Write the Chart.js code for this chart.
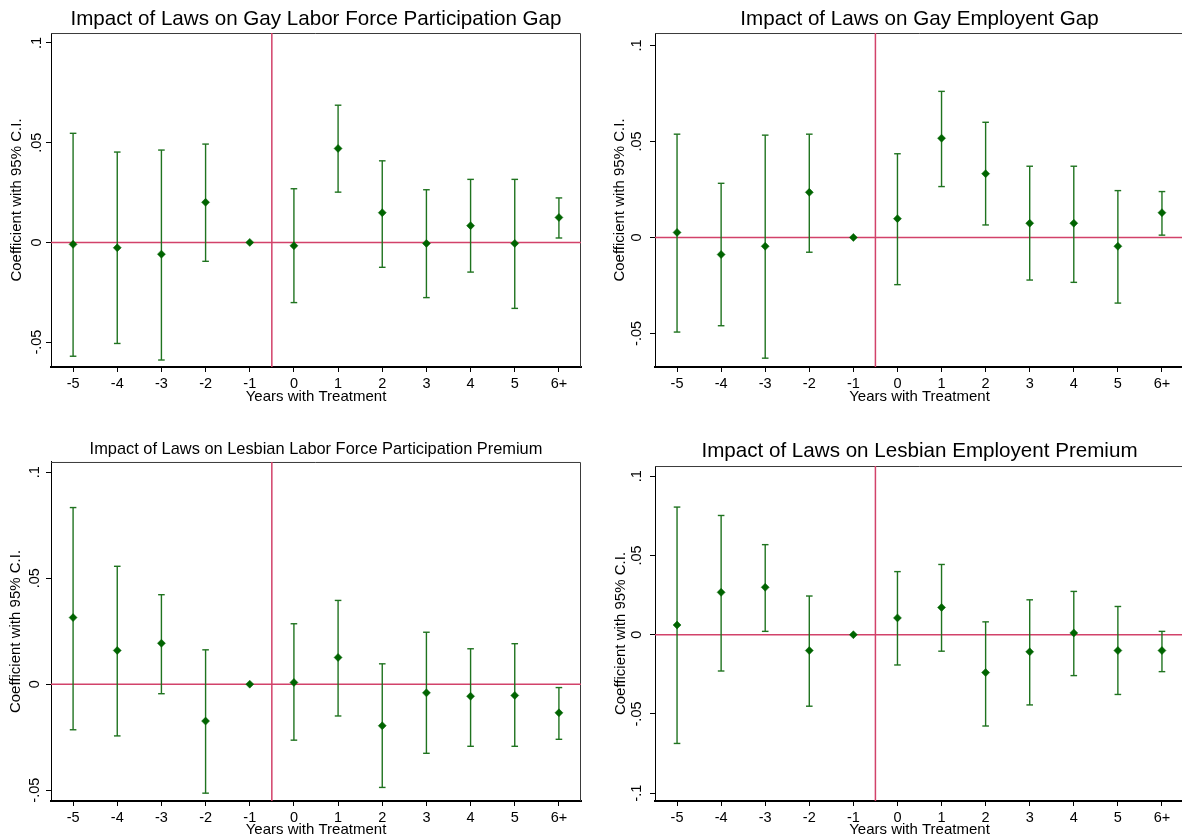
<!DOCTYPE html>
<html>
<head>
<meta charset="utf-8">
<script src="https://cdn.jsdelivr.net/npm/chart.js@4.4.1/dist/chart.umd.min.js"></script>
<style>
  html, body { margin: 0; padding: 0; background: #fff; width: 1182px; height: 839px; overflow: hidden; }
  canvas { position: absolute; }
</style>
</head>
<body>
<canvas id="gayLfp" width="583" height="415" style="left:0px;top:0px"></canvas>
<canvas id="gayEmp" width="593" height="415" style="left:591px;top:0px"></canvas>
<canvas id="lesLfp" width="583" height="415" style="left:0px;top:430px"></canvas>
<canvas id="lesEmp" width="593" height="415" style="left:591px;top:430px"></canvas>
<script>
const years = ['-5', '-4', '-3', '-2', '-1', '0', '1', '2', '3', '4', '5', '6+']
const treatmentLine = 4.5   // half a year before year 0, between -1 and 0

const yTicksSmall = [-0.05, 0, 0.05, 0.1]
const yLabelsSmall = ['-.05', '0', '.05', '.1']
const yTicksWide = [-0.1, -0.05, 0, 0.05, 0.1]
const yLabelsWide = ['-.1', '-.05', '0', '.05', '.1']

// gay labor force participation gap
const gayLfpCoef = [-0.0010, -0.0027, -0.0059, 0.0201, 0, -0.0017, 0.0471, 0.0149, -0.0005, 0.0084, -0.0005, 0.0125]
const gayLfpLow = [-0.0571, -0.0507, -0.0590, -0.0095, null, -0.0302, 0.0252, -0.0125, -0.0277, -0.0149, -0.0331, 0.0022]
const gayLfpHigh = [0.0547, 0.0453, 0.0463, 0.0493, null, 0.0269, 0.0688, 0.0409, 0.0264, 0.0316, 0.0316, 0.0223]

// gay employment gap
const gayEmpCoef = [0.0026, -0.0089, -0.0046, 0.0235, 0, 0.0098, 0.0517, 0.0332, 0.0074, 0.0074, -0.0046, 0.0129]
const gayEmpLow = [-0.0493, -0.0460, -0.0629, -0.0077, null, -0.0246, 0.0265, 0.0065, -0.0222, -0.0234, -0.0342, 0.0012]
const gayEmpHigh = [0.0538, 0.0282, 0.0533, 0.0538, null, 0.0436, 0.0761, 0.0600, 0.0371, 0.0371, 0.0244, 0.0239]

// lesbian labor force participation premium
const lesLfpCoef = [0.0314, 0.0159, 0.0193, -0.0174, 0, 0.0008, 0.0126, -0.0196, -0.0041, -0.0057, -0.0053, -0.0135]
const lesLfpLow = [-0.0215, -0.0244, -0.0045, -0.0514, null, -0.0264, -0.0150, -0.0487, -0.0326, -0.0293, -0.0293, -0.0260]
const lesLfpHigh = [0.0833, 0.0556, 0.0422, 0.0162, null, 0.0285, 0.0395, 0.0096, 0.0245, 0.0167, 0.0191, -0.0016]

// lesbian employment premium
const lesEmpCoef = [0.0061, 0.0267, 0.0299, -0.0100, 0, 0.0106, 0.0172, -0.0239, -0.0108, 0.0011, -0.0100, -0.0100]
const lesEmpLow = [-0.0686, -0.0229, 0.0021, -0.0451, null, -0.0191, -0.0104, -0.0576, -0.0443, -0.0258, -0.0377, -0.0233]
const lesEmpHigh = [0.0805, 0.0752, 0.0568, 0.0244, null, 0.0398, 0.0443, 0.0081, 0.0220, 0.0273, 0.0178, 0.0021]

const FONT = 'Arial, "Liberation Sans", sans-serif'
const GREEN = '#006400'
const WHISKER = '#1f731f'
const RED = '#d2426a'

// red reference lines and the thin plot frame
const refLines = {
    id: 'refLines',
    beforeDatasetsDraw(chart) {
        const { ctx, chartArea: a, scales: { x, y } } = chart
        ctx.save()
        ctx.strokeStyle = '#3a3a3a'
        ctx.lineWidth = 1
        ctx.beginPath()
        ctx.moveTo(a.left, a.top + 0.5)
        ctx.lineTo(a.right - 0.5, a.top + 0.5)
        ctx.lineTo(a.right - 0.5, a.bottom)
        ctx.stroke()
        ctx.strokeStyle = RED
        ctx.lineWidth = 1.5
        const y0 = y.getPixelForValue(0)
        const xT = x.getPixelForValue(treatmentLine)
        ctx.beginPath()
        ctx.moveTo(a.left, y0)
        ctx.lineTo(a.right, y0)
        ctx.moveTo(xT, a.top)
        ctx.lineTo(xT, a.bottom)
        ctx.stroke()
        ctx.restore()
    }
}

const makeChart = (id, p) => {
    const pts = (arr) => arr.map((v, i) => ({ x: i, y: v })).filter(d => d.y !== null)
    const bars = p.low.map((lo, i) => ({ x: i, y: lo === null ? null : [lo, p.high[i]] }))
    const capStyle = {
        type: 'scatter', pointStyle: 'line', pointRadius: 3.3, pointHoverRadius: 3.3,
        borderColor: WHISKER, borderWidth: 1.4, backgroundColor: WHISKER, order: 2
    }
    return new Chart(document.getElementById(id), {
        type: 'scatter',
        data: {
            datasets: [
                { type: 'bar', data: bars, backgroundColor: WHISKER, barThickness: 1.4,
                  inflateAmount: 0, borderWidth: 0, grouped: false, order: 3 },
                { ...capStyle, data: pts(p.low) },
                { ...capStyle, data: pts(p.high) },
                { type: 'scatter', data: pts(p.coef), pointStyle: 'rectRot', pointRadius: 4,
                  pointHoverRadius: 4, backgroundColor: GREEN, borderColor: GREEN, borderWidth: 0.5, order: 1 }
            ]
        },
        options: {
            responsive: false,
            animation: false,
            events: [],
            layout: { autoPadding: false, padding: { left: 0, right: p.padRight, top: 0, bottom: 0 } },
            plugins: {
                legend: { display: false },
                tooltip: { enabled: false },
                title: {
                    display: true, text: p.title, fullSize: false, color: '#000',
                    font: { family: FONT, size: p.titleSize, weight: 'normal' },
                    padding: { top: p.titleTop, bottom: p.titleBottom }
                }
            },
            scales: {
                x: {
                    type: 'linear', min: -0.5, max: 11.5, offset: false,
                    afterBuildTicks: s => { s.ticks = years.map((_, i) => ({ value: i })) },
                    afterFit: s => { s.height = p.xHeight; s.paddingLeft = 0; s.paddingRight = 0 },
                    ticks: { callback: v => years[v], color: '#000', font: { family: FONT, size: 14.5 },
                             padding: 3, autoSkip: false, maxRotation: 0 },
                    grid: { drawOnChartArea: false, offset: false, tickLength: 5, color: '#000', tickColor: '#000' },
                    border: { color: '#000', width: 2 },
                    title: { display: true, text: 'Years with Treatment', color: '#000',
                             font: { family: FONT, size: 15 }, padding: { top: 0, bottom: p.xTitlePad } }
                },
                y: {
                    min: p.yMin, max: p.yMax,
                    afterBuildTicks: s => { s.ticks = p.yTicks.map(v => ({ value: v })) },
                    afterFit: s => { s.width = p.yWidth },
                    ticks: { callback: v => p.yLabels[p.yTicks.indexOf(v)], color: '#000',
                             font: { family: FONT, size: 14.5 }, minRotation: 90, maxRotation: 90,
                             crossAlign: 'center', padding: p.yTickPad, autoSkip: false },
                    grid: { drawOnChartArea: false, tickLength: 5, color: '#000', tickColor: '#000' },
                    border: { color: '#000', width: 1 },
                    title: { display: true, text: 'Coefficient with 95% C.I.', color: '#000',
                             font: { family: FONT, size: 15 }, padding: { top: p.yTitlePad, bottom: 0 } }
                }
            }
        },
        plugins: [refLines]
    })
}

makeChart('gayLfp', {
    title: 'Impact of Laws on Gay Labor Force Participation Gap', titleSize: 20.6, titleTop: 6.6, titleBottom: 1.7,
    coef: gayLfpCoef, low: gayLfpLow, high: gayLfpHigh, yTicks: yTicksSmall, yLabels: yLabelsSmall,
    yMin: -0.0625, yMax: 0.105, yWidth: 51, yTickPad: -3, yTitlePad: 8, xHeight: 48, xTitlePad: 9, padRight: 2
})
makeChart('gayEmp', {
    title: 'Impact of Laws on Gay Employent Gap', titleSize: 20.6, titleTop: 6.6, titleBottom: 1.7,
    coef: gayEmpCoef, low: gayEmpLow, high: gayEmpHigh, yTicks: yTicksSmall, yLabels: yLabelsSmall,
    yMin: -0.0675, yMax: 0.1065, yWidth: 64, yTickPad: 1, yTitlePad: 19.4, xHeight: 48, xTitlePad: 9, padRight: 0
})
makeChart('lesLfp', {
    title: 'Impact of Laws on Lesbian Labor Force Participation Premium', titleSize: 16.4, titleTop: 10, titleBottom: 2.3,
    coef: lesLfpCoef, low: lesLfpLow, high: lesLfpHigh, yTicks: yTicksSmall, yLabels: yLabelsSmall,
    yMin: -0.0551, yMax: 0.1048, yWidth: 51, yTickPad: -1, yTitlePad: 7, xHeight: 44, xTitlePad: 6, padRight: 2
})
makeChart('lesEmp', {
    title: 'Impact of Laws on Lesbian Employent Premium', titleSize: 20.6, titleTop: 9.4, titleBottom: 1.9,
    coef: lesEmpCoef, low: lesEmpLow, high: lesEmpHigh, yTicks: yTicksWide, yLabels: yLabelsWide,
    yMin: -0.1049, yMax: 0.1064, yWidth: 64, yTickPad: 1, yTitlePad: 20.4, xHeight: 44, xTitlePad: 6, padRight: 0
})
</script>
</body>
</html>
